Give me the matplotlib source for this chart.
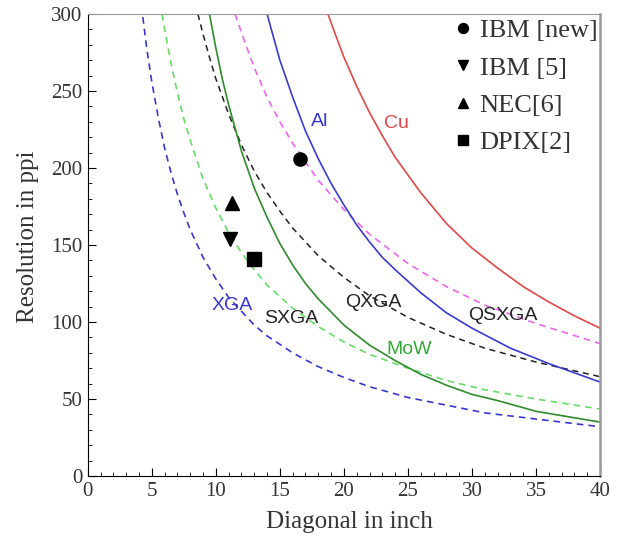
import matplotlib
matplotlib.use("Agg")
import matplotlib.pyplot as plt

# display formats (dashed)
xga_x = [4.3, 4.6, 5, 5.5, 6, 6.5, 7, 7.5, 8, 9, 10, 11, 12, 13, 14, 16, 18, 20, 22, 25, 28, 31, 35, 40]
xga_y = [298, 278, 256, 233, 213, 197, 183, 171, 160, 142, 128, 116, 107, 98, 91, 80, 71, 64, 58, 51, 46, 41, 37, 32]

sxga_x = [5.8, 6.2, 6.6, 7, 7.5, 8, 9, 10, 11, 12, 13, 14, 16, 18, 20, 22, 25, 28, 31, 35, 40]
sxga_y = [300, 281, 264, 249, 232, 218, 193, 174, 158, 145, 134, 124, 109, 97, 87, 79, 70, 62, 56, 50, 43.5]

qxga_x = [8.6, 9, 9.5, 10, 11, 12, 13, 14, 15, 16, 18, 20, 22, 25, 28, 31, 35, 40]
qxga_y = [300, 287, 272, 258, 235, 215, 198, 184, 172, 161, 143, 129, 117, 103, 92, 83, 74, 64.5]

qsxga_x = [11.5, 12, 13, 14, 15, 16, 18, 20, 22, 25, 28, 31, 35, 40]
qsxga_y = [300, 288, 265, 246, 230, 216, 192, 173, 157, 138, 123, 111, 99, 86]

# gate line metals (solid)
mow_x = [9.5, 10, 10.5, 11, 12, 13, 14, 15, 16, 17, 18, 20, 22, 24, 26, 28, 30, 32, 35, 40]
mow_y = [300, 278, 258, 241, 211, 187, 168, 151, 137, 125, 115, 98, 85, 75, 66, 59, 53, 49, 42, 35]

al_x = [14, 15, 16, 17, 18, 19, 20, 21, 22, 23, 24, 26, 28, 30, 33, 36, 40]
al_y = [300, 270, 246, 224, 206, 190, 176, 163, 152, 142, 134, 119, 106, 96, 83, 73, 61]

cu_x = [18.75, 19.5, 20, 21, 22, 23, 24, 26, 28, 30, 32, 34, 36, 38, 40]
cu_y = [300, 283, 272, 253, 236, 221, 207, 184, 164, 148, 135, 123, 113, 104, 96]

# published displays
pt_labels = ["IBM [new]", "IBM [5]", "NEC[6]", "DPIX[2]"]
pt_x = [16.6, 11.1, 11.3, 13.0]
pt_y = [206, 154, 177, 141]
pt_markers = ["o", "v", "^", "s"]

serif = ["Liberation Serif", "DejaVu Serif"]
sans = ["Liberation Sans", "DejaVu Sans"]

fig = plt.figure(figsize=(6.18, 5.40), dpi=100)
ax = fig.add_axes([0.142, 0.1185, 0.829, 0.8555])

dash = (0, (4, 3))
ax.plot(xga_x, xga_y, color="#3838d0", lw=1.2, linestyle=dash)
ax.plot(sxga_x, sxga_y, color="#66dd66", lw=1.2, linestyle=dash)
ax.plot(qxga_x, qxga_y, color="#222222", lw=1.1, linestyle=dash)
ax.plot(qsxga_x, qsxga_y, color="#ee66ee", lw=1.2, linestyle=dash)

ax.plot(mow_x, mow_y, color="#2e8b2e", lw=1.2)
ax.plot(al_x, al_y, color="#3a3ad0", lw=1.2)
ax.plot(cu_x, cu_y, color="#e04848", lw=1.2)

for lab, x, y, m in zip(pt_labels, pt_x, pt_y, pt_markers):
    ax.plot(x, y, marker=m, color="black", linestyle="none", markersize=9.5, label=lab)

# curve labels
lab_kw = dict(fontsize=14, family=sans, ha="center", va="center")
ax.text(11.25, 111, "XGA", color="#3838d0", **lab_kw)
ax.text(15.9, 102, "SXGA", color="#222222", **lab_kw)
ax.text(22.3, 113, "QXGA", color="#222222", **lab_kw)
ax.text(32.4, 104, "QSXGA", color="#222222", **lab_kw)
ax.text(25.1, 82, "MoW", color="#33aa33", **lab_kw)
ax.text(18.1, 230, "Al", color="#3838d0", **lab_kw)
ax.text(24.1, 229, "Cu", color="#e04848", **lab_kw)

ax.set_xlim(0, 40)
ax.set_ylim(0, 300)
ax.set_xticks(range(0, 41, 5))
ax.set_yticks(range(0, 301, 50))
ax.set_xticks(range(0, 41, 1), minor=True)
ax.set_yticks(range(0, 301, 10), minor=True)
ax.tick_params(which="both", direction="in", top=False, right=False)
ax.tick_params(which="major", length=6, labelsize=15, pad=4)
ax.tick_params(which="minor", length=3)
for lab in ax.get_xticklabels() + ax.get_yticklabels():
    lab.set_family(serif)
    lab.set_color("#333333")

ax.spines["top"].set_color("#999999")
ax.spines["right"].set_color("#999999")
ax.spines["right"].set_linewidth(1.8)

ax.set_xlabel("Diagonal in inch", family=serif, fontsize=18, color="#333333", va="center")
ax.set_ylabel("Resolution in ppi", family=serif, fontsize=18, color="#333333", va="center")
ax.xaxis.set_label_coords(0.51, -0.0996)
ax.yaxis.set_label_coords(-0.117, 0.517)

leg = ax.legend(loc="upper right", bbox_to_anchor=(1.0, 0.995), frameon=False,
                prop={"family": serif, "size": 19}, markerscale=0.75,
                handletextpad=0.15, handlelength=1.0, labelspacing=0.52,
                borderpad=0.0, borderaxespad=0.1)
for t in leg.get_texts():
    t.set_color("#333333")

fig.savefig("out.png", dpi=100)
